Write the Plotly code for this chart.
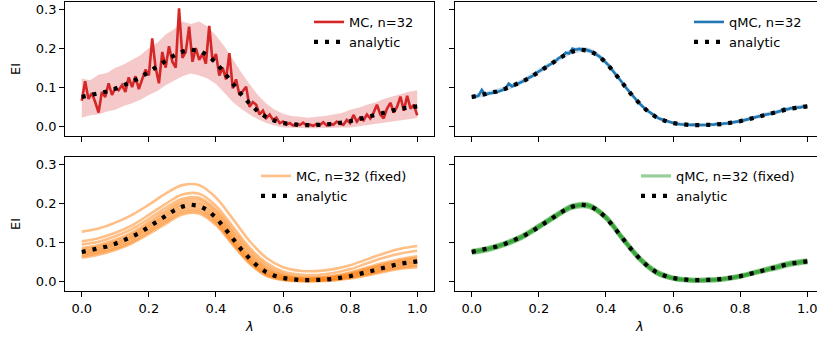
import plotly.graph_objects as go

# ---------------- data ----------------
x_fine = [round(i * 0.01, 2) for i in range(101)]
x_q = [round(i * 0.025, 3) for i in range(41)]
x_c = [round(i * 0.05, 2) for i in range(21)]

analytic = [0.075, 0.079, 0.083, 0.089, 0.096, 0.104, 0.114, 0.125, 0.140, 0.153,
            0.167, 0.181, 0.191, 0.196, 0.193, 0.182, 0.163, 0.137, 0.108, 0.082,
            0.058, 0.038, 0.023, 0.014, 0.008, 0.005, 0.003, 0.003, 0.003, 0.004,
            0.006, 0.009, 0.013, 0.018, 0.024, 0.029, 0.034, 0.040, 0.045, 0.048, 0.051]

mc = [0.065, 0.115, 0.070, 0.085, 0.062, 0.035, 0.088, 0.075, 0.110, 0.080,
      0.098, 0.092, 0.105, 0.088, 0.125, 0.100, 0.128, 0.095, 0.120, 0.145,
      0.130, 0.225, 0.150, 0.110, 0.190, 0.150, 0.205, 0.165, 0.150, 0.302,
      0.175, 0.190, 0.255, 0.165, 0.200, 0.170, 0.185, 0.160, 0.257, 0.165,
      0.185, 0.130, 0.150, 0.120, 0.187, 0.097, 0.120, 0.080, 0.090, 0.101,
      0.050, 0.062, 0.055, 0.030, 0.040, 0.021, 0.030, 0.016, 0.022, 0.008,
      0.012, 0.004, 0.008, 0.002, 0.006, 0.003, 0.009, 0.002, 0.004, 0.001,
      0.006, 0.003, 0.010, 0.002, 0.007, 0.004, 0.012, 0.006, 0.004, 0.016,
      0.008, 0.029, 0.012, 0.022, 0.015, 0.030, 0.020, 0.035, 0.055, 0.030,
      0.020, 0.045, 0.060, 0.035, 0.050, 0.076, 0.040, 0.078, 0.045, 0.055, 0.028]

mc_hi = [0.122, 0.118, 0.132, 0.136, 0.150, 0.158, 0.170, 0.182, 0.200, 0.214,
         0.235, 0.248, 0.268, 0.262, 0.268, 0.255, 0.232, 0.205, 0.172, 0.138,
         0.108, 0.080, 0.058, 0.042, 0.032, 0.026, 0.024, 0.022, 0.024, 0.026,
         0.030, 0.034, 0.042, 0.047, 0.055, 0.061, 0.070, 0.076, 0.082, 0.088, 0.092]
mc_lo = [0.022, 0.028, 0.030, 0.038, 0.042, 0.052, 0.059, 0.068, 0.080, 0.090,
         0.105, 0.116, 0.128, 0.135, 0.130, 0.122, 0.108, 0.086, 0.062, 0.045,
         0.030, 0.018, 0.008, 0.002, -0.003, -0.004, -0.005, -0.005, -0.005, -0.004,
         -0.004, -0.003, -0.003, 0.000, 0.003, 0.006, 0.010, 0.013, 0.016, 0.018, 0.021]

qmc = [0.072, 0.076, 0.078, 0.093, 0.081, 0.084, 0.085, 0.088, 0.089, 0.092,
       0.096, 0.109, 0.102, 0.106, 0.110, 0.113, 0.118, 0.124, 0.128, 0.135,
       0.140, 0.146, 0.150, 0.157, 0.161, 0.167, 0.175, 0.178, 0.188, 0.186,
       0.199, 0.196, 0.198, 0.196, 0.196, 0.193, 0.190, 0.184, 0.179, 0.171,
       0.163, 0.154, 0.142, 0.132, 0.120, 0.110, 0.098, 0.088, 0.077, 0.068,
       0.058, 0.050, 0.041, 0.036, 0.029, 0.024, 0.019, 0.016, 0.013, 0.010,
       0.008, 0.006, 0.005, 0.005, 0.004, 0.003, 0.004, 0.003, 0.003, 0.004,
       0.003, 0.005, 0.004, 0.006, 0.005, 0.007, 0.007, 0.009, 0.010, 0.012,
       0.013, 0.015, 0.017, 0.020, 0.022, 0.024, 0.026, 0.029, 0.030, 0.032,
       0.034, 0.037, 0.039, 0.045, 0.043, 0.046, 0.046, 0.048, 0.048, 0.051, 0.051]
qmc_hi = [0.081, 0.090, 0.103, 0.121, 0.147, 0.174, 0.199, 0.200, 0.170, 0.116, 0.064,
          0.029, 0.013, 0.008, 0.008, 0.011, 0.018, 0.030, 0.040, 0.051, 0.057]
qmc_lo = [0.070, 0.078, 0.090, 0.108, 0.134, 0.161, 0.185, 0.187, 0.157, 0.103, 0.053,
          0.019, 0.004, -0.001, -0.001, 0.002, 0.008, 0.019, 0.029, 0.040, 0.046]

mc_fixed = [
    [0.127, 0.135, 0.150, 0.170, 0.196, 0.224, 0.246, 0.246, 0.214, 0.160, 0.103, 0.060, 0.036, 0.027, 0.026, 0.031, 0.041, 0.056, 0.071, 0.083, 0.090],
    [0.102, 0.110, 0.124, 0.143, 0.170, 0.198, 0.222, 0.224, 0.193, 0.140, 0.086, 0.047, 0.025, 0.017, 0.016, 0.021, 0.031, 0.046, 0.060, 0.071, 0.078],
    [0.094, 0.101, 0.115, 0.134, 0.160, 0.188, 0.211, 0.214, 0.184, 0.131, 0.079, 0.040, 0.019, 0.011, 0.010, 0.014, 0.023, 0.035, 0.047, 0.057, 0.064],
    [0.085, 0.093, 0.106, 0.125, 0.152, 0.180, 0.205, 0.208, 0.178, 0.124, 0.072, 0.034, 0.015, 0.008, 0.008, 0.012, 0.020, 0.032, 0.043, 0.053, 0.060],
    [0.080, 0.088, 0.101, 0.120, 0.146, 0.174, 0.199, 0.201, 0.171, 0.117, 0.066, 0.030, 0.013, 0.007, 0.007, 0.010, 0.018, 0.029, 0.040, 0.050, 0.056],
    [0.076, 0.084, 0.097, 0.115, 0.141, 0.168, 0.193, 0.195, 0.165, 0.111, 0.060, 0.026, 0.010, 0.005, 0.005, 0.008, 0.015, 0.026, 0.036, 0.046, 0.052],
    [0.072, 0.080, 0.093, 0.111, 0.136, 0.163, 0.187, 0.189, 0.159, 0.106, 0.056, 0.022, 0.008, 0.003, 0.003, 0.006, 0.013, 0.023, 0.033, 0.043, 0.048],
    [0.068, 0.076, 0.088, 0.106, 0.131, 0.157, 0.181, 0.183, 0.154, 0.101, 0.052, 0.019, 0.006, 0.002, 0.002, 0.005, 0.011, 0.020, 0.030, 0.039, 0.044],
    [0.064, 0.072, 0.084, 0.101, 0.126, 0.152, 0.176, 0.178, 0.149, 0.097, 0.048, 0.016, 0.004, 0.001, 0.001, 0.003, 0.009, 0.017, 0.027, 0.035, 0.040],
    [0.060, 0.068, 0.080, 0.097, 0.121, 0.147, 0.171, 0.173, 0.144, 0.093, 0.045, 0.014, 0.003, 0.000, 0.000, 0.002, 0.007, 0.015, 0.024, 0.032, 0.036],
]

qmc_fixed = [
    [0.079, 0.087, 0.100, 0.118, 0.144, 0.171, 0.195, 0.197, 0.167, 0.113, 0.062, 0.027, 0.011, 0.006, 0.006, 0.009, 0.016, 0.027, 0.038, 0.049, 0.055],
    [0.077, 0.085, 0.098, 0.116, 0.142, 0.169, 0.193, 0.195, 0.165, 0.111, 0.060, 0.025, 0.009, 0.004, 0.004, 0.007, 0.014, 0.025, 0.036, 0.047, 0.053],
    [0.075, 0.083, 0.096, 0.114, 0.140, 0.167, 0.191, 0.193, 0.163, 0.109, 0.058, 0.023, 0.008, 0.003, 0.003, 0.006, 0.013, 0.024, 0.034, 0.045, 0.051],
    [0.073, 0.081, 0.094, 0.112, 0.138, 0.165, 0.189, 0.191, 0.161, 0.107, 0.056, 0.021, 0.006, 0.001, 0.001, 0.004, 0.011, 0.022, 0.032, 0.043, 0.049],
    [0.071, 0.079, 0.092, 0.110, 0.136, 0.163, 0.187, 0.189, 0.159, 0.105, 0.054, 0.019, 0.005, 0.000, 0.000, 0.003, 0.010, 0.021, 0.030, 0.041, 0.047],
]

y_ticks = [0.0, 0.1, 0.2, 0.3]
x_ticks = [0.0, 0.2, 0.4, 0.6, 0.8, 1.0]

# ---------------- styling ----------------
W, H = 817, 339
FONT = "DejaVu Sans"
FS = 13
RED = "#d62728"
BLUE = "#1f77b4"
ORANGE = "rgba(255,127,14,0.5)"
GREEN = "rgba(44,160,44,0.5)"
DOT = dict(color="black", width=4.2, dash="4px,7px")

fig = go.Figure()

def ax(n):
    return ("x" if n == 1 else f"x{n}"), ("y" if n == 1 else f"y{n}")

# panel 1: MC
xa, ya = ax(1)
fig.add_trace(go.Scatter(x=x_q, y=mc_lo, mode="lines", line=dict(width=0), xaxis=xa, yaxis=ya,
                         showlegend=False, hoverinfo="skip"))
fig.add_trace(go.Scatter(x=x_q, y=mc_hi, mode="lines", line=dict(width=0), fill="tonexty",
                         fillcolor="rgba(214,39,40,0.25)", xaxis=xa, yaxis=ya,
                         showlegend=False, hoverinfo="skip"))
fig.add_trace(go.Scatter(x=x_fine, y=mc, mode="lines", line=dict(color=RED, width=2.6),
                         name="MC, n=32", xaxis=xa, yaxis=ya, legend="legend"))
fig.add_trace(go.Scatter(x=x_q, y=analytic, mode="lines", line=DOT, name="analytic",
                         xaxis=xa, yaxis=ya, legend="legend"))

# panel 2: qMC
xa, ya = ax(2)
fig.add_trace(go.Scatter(x=x_c, y=qmc_lo, mode="lines", line=dict(width=0, shape="spline"), xaxis=xa, yaxis=ya,
                         showlegend=False, hoverinfo="skip"))
fig.add_trace(go.Scatter(x=x_c, y=qmc_hi, mode="lines", line=dict(width=0, shape="spline"), fill="tonexty",
                         fillcolor="rgba(31,119,180,0.25)", xaxis=xa, yaxis=ya,
                         showlegend=False, hoverinfo="skip"))
fig.add_trace(go.Scatter(x=x_fine, y=qmc, mode="lines", line=dict(color=BLUE, width=2.6),
                         name="qMC, n=32", xaxis=xa, yaxis=ya, legend="legend2"))
fig.add_trace(go.Scatter(x=x_q, y=analytic, mode="lines", line=DOT, name="analytic",
                         xaxis=xa, yaxis=ya, legend="legend2"))

# panel 3: MC fixed
xa, ya = ax(3)
for i, ys in enumerate(mc_fixed):
    fig.add_trace(go.Scatter(x=x_c, y=ys, mode="lines", line=dict(color=ORANGE, width=2.6, shape="spline"),
                             name="MC, n=32 (fixed)", showlegend=(i == 0), xaxis=xa, yaxis=ya,
                             legend="legend3"))
fig.add_trace(go.Scatter(x=x_q, y=analytic, mode="lines", line=DOT, name="analytic",
                         xaxis=xa, yaxis=ya, legend="legend3"))

# panel 4: qMC fixed
xa, ya = ax(4)
for i, ys in enumerate(qmc_fixed):
    fig.add_trace(go.Scatter(x=x_c, y=ys, mode="lines", line=dict(color=GREEN, width=3.2, shape="spline"),
                             name="qMC, n=32 (fixed)", showlegend=(i == 0), xaxis=xa, yaxis=ya,
                             legend="legend4"))
fig.add_trace(go.Scatter(x=x_q, y=analytic, mode="lines", line=DOT, name="analytic",
                         xaxis=xa, yaxis=ya, legend="legend4"))

# ---------------- layout ----------------
def px_x(p):
    return p / W

def px_y(p):
    return 1 - p / H

xdom_l = [px_x(65), px_x(434)]
xdom_r = [px_x(455), 1.0]
ydom_t = [px_y(136), px_y(2)]
ydom_b = [px_y(291), px_y(157)]
yr = [-0.025, 0.318]

common = dict(showline=True, linecolor="black", linewidth=1.1, ticks="outside", ticklen=4.9,
              tickwidth=1.1, tickcolor="black", showgrid=False, zeroline=False,
              ticklabeloverflow="allow",
              tickfont=dict(family=FONT, size=FS, color="black"))

layout = dict(width=W, height=H, margin=dict(l=0, r=0, t=0, b=0), paper_bgcolor="white",
              plot_bgcolor="white", font=dict(family=FONT, size=FS, color="black"))

for n, (xd, yd, xlab, ylab, mir) in enumerate([
        (xdom_l, ydom_t, False, True, True),
        (xdom_r, ydom_t, False, False, False),
        (xdom_l, ydom_b, True, True, True),
        (xdom_r, ydom_b, True, False, False)], start=1):
    xk = "xaxis" if n == 1 else f"xaxis{n}"
    yk = "yaxis" if n == 1 else f"yaxis{n}"
    xr = [-0.05, 1.05] if mir else [-0.05, (817 - 471.7) / 335.6]
    layout[xk] = dict(common, domain=xd, range=xr, tickvals=x_ticks,
                      ticktext=[f"{v:.1f}" for v in x_ticks], showticklabels=xlab,
                      anchor=("y" if n == 1 else f"y{n}"), mirror=True)
    layout[yk] = dict(common, domain=yd, range=yr, tickvals=y_ticks,
                      ticktext=[f"{v:.1f}" for v in y_ticks], showticklabels=ylab,
                      anchor=("x" if n == 1 else f"x{n}"), mirror=mir)

leg = dict(font=dict(family=FONT, size=FS, color="black"), bgcolor="rgba(0,0,0,0)",
           borderwidth=0, xanchor="left", yanchor="top", tracegroupgap=0,
           traceorder="normal")
layout["legend"] = dict(leg, x=px_x(309), y=px_y(7))
layout["legend2"] = dict(leg, x=px_x(689), y=px_y(7))
layout["legend3"] = dict(leg, x=px_x(256), y=px_y(161))
layout["legend4"] = dict(leg, x=px_x(636), y=px_y(161))

ann = dict(xref="paper", yref="paper", showarrow=False, xanchor="center", yanchor="middle",
           font=dict(family=FONT, size=FS, color="black"))
layout["annotations"] = [
    dict(ann, text="EI", x=px_x(15), y=px_y(69), textangle=-90),
    dict(ann, text="EI", x=px_x(15), y=px_y(224), textangle=-90),
    dict(ann, text="<i>λ</i>", x=px_x(249.7), y=px_y(326.5)),
    dict(ann, text="<i>λ</i>", x=px_x(639.5), y=px_y(326.5)),
]

fig.update_layout(**layout)
fig.write_html("out.html", config={"displayModeBar": False},
               post_script="document.body.style.margin='0';document.body.style.overflow='hidden';")
